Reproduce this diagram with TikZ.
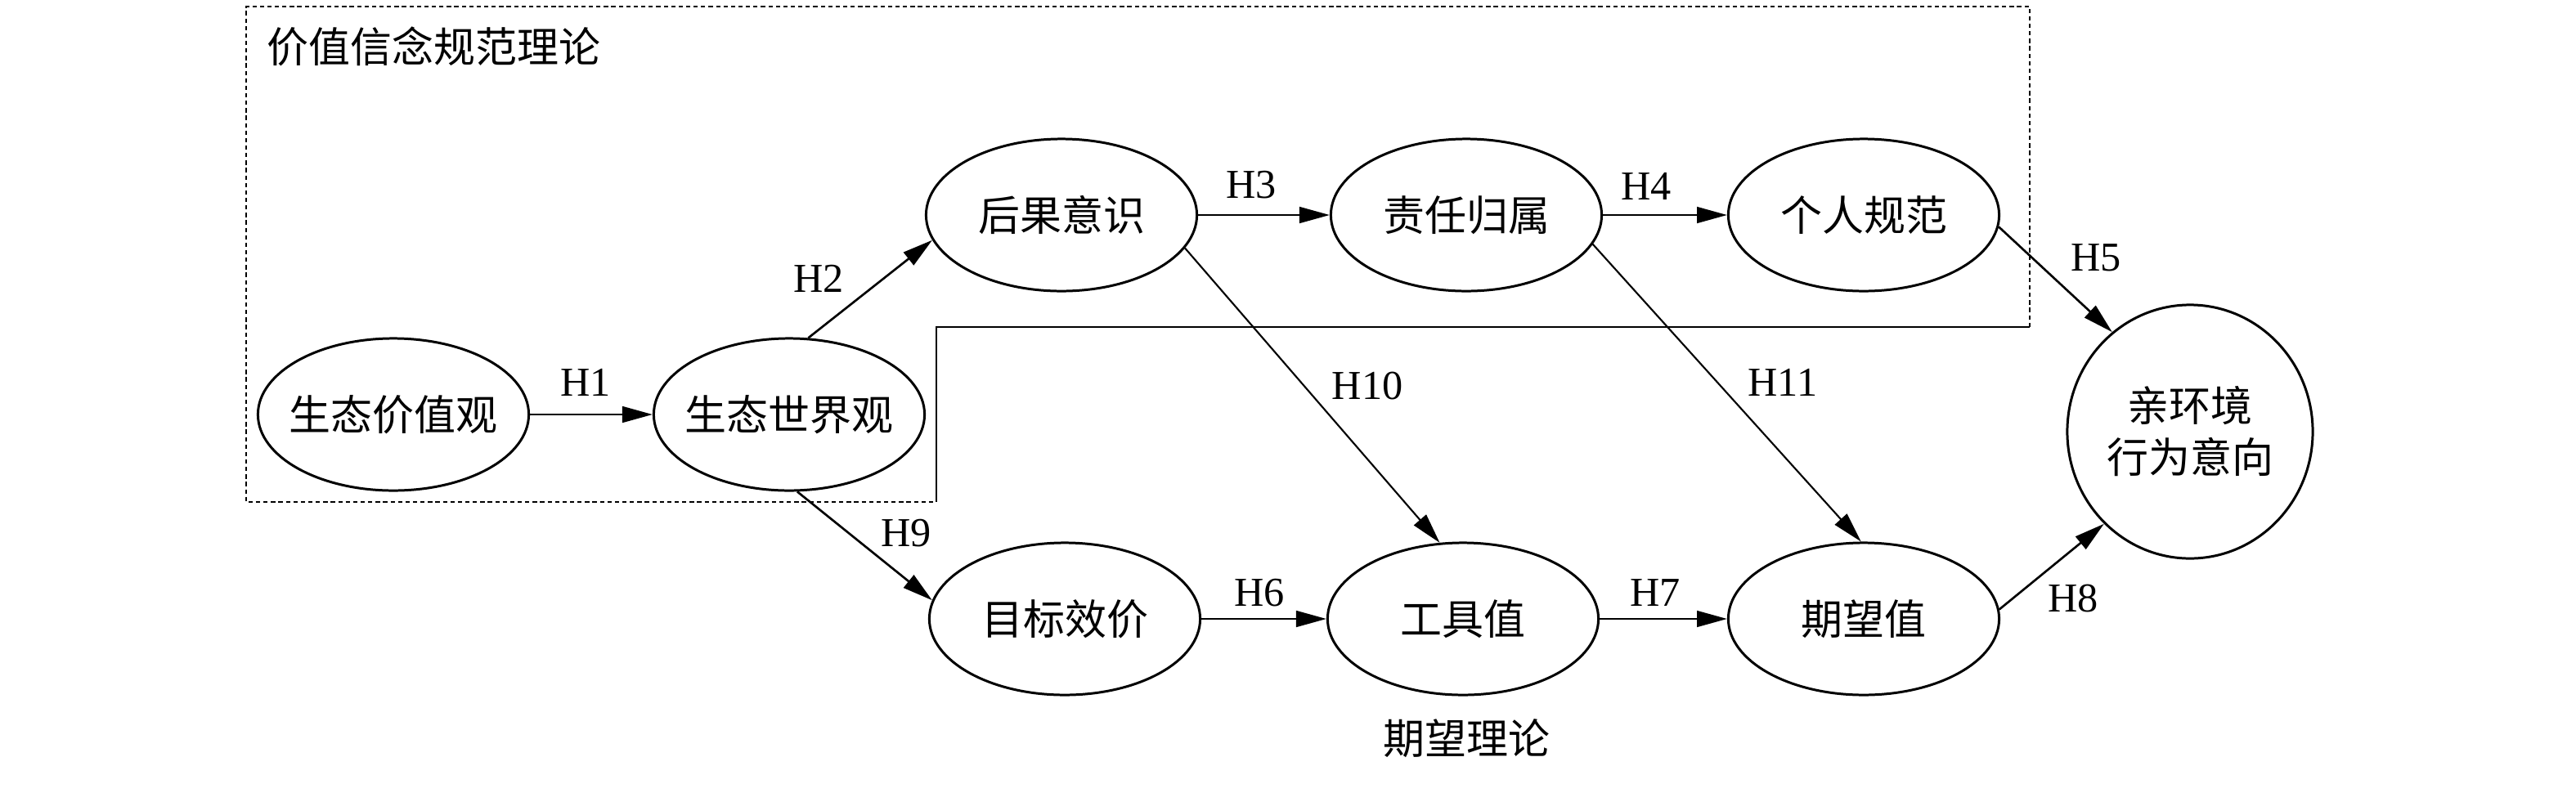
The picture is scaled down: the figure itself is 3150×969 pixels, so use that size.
\documentclass[tikz,border=0pt]{standalone}
\usepackage{fontspec}
\setmainfont{Liberation Serif}
\newfontfamily\cjk{Noto Sans CJK SC}
\usetikzlibrary{shapes.geometric,arrows.meta}
\begin{document}
\begin{tikzpicture}[x=0.01cm,y=-0.01cm,
  ell/.style={draw,ellipse,line width=0.85pt,minimum width=3.31cm,minimum height=1.86cm,inner sep=0pt},
  cjktxt/.style={font=\cjk\fontsize{14.5pt}{17.9pt}\selectfont,inner sep=0pt},
  hl/.style={font=\fontsize{14.3pt}{16pt}\selectfont,inner sep=0pt},
  arr/.style={line width=0.75pt,-{Triangle[length=10.5pt,width=5.6pt]}},
  thinarr/.style={arr,line width=0.6pt},
  boxdash/.style={line width=0.7pt,dash pattern=on 1.5pt off 1.1pt},
  boxsolid/.style={line width=0.7pt},
]
\useasboundingbox (0,0) rectangle (3150,969);

% nodes
\node[ell,label={[cjktxt]center:生态价值观}] (A) at (481,507) {};
\node[ell,label={[cjktxt]center:生态世界观}] (B) at (965,507) {};
\node[ell,label={[cjktxt]center:后果意识}] (C) at (1298,263) {};
\node[ell,label={[cjktxt]center:责任归属}] (D) at (1793,263) {};
\node[ell,label={[cjktxt]center:个人规范}] (E) at (2279,263) {};
\node[ell,label={[cjktxt]center:目标效价}] (F) at (1302,757) {};
\node[ell,label={[cjktxt]center:工具值}] (G) at (1789,757) {};
\node[ell,label={[cjktxt]center:期望值}] (Hn) at (2279,757) {};
\node[ell,minimum width=3.0cm,minimum height=3.1cm,
      label={[cjktxt,align=center]center:亲环境\\行为意向}] (I) at (2678,528) {};

% theory frame
\coordinate (f1) at (2482,400);
\coordinate (f2) at (2482,8);
\coordinate (f3) at (301,8);
\coordinate (f4) at (301,614);
\coordinate (f5) at (1145,614);
\coordinate (f6) at (1145,400);
\draw[boxdash] (f1) -- (f2) -- (f3) -- (f4) -- (f5);
\draw[boxsolid] (f5) -- (f6) -- (f1);
\node[cjktxt,anchor=west] (t1) at (326,57) {价值信念规范理论};
\node[cjktxt] (t2) at (1793,903) {期望理论};

% connectors
\draw[arr] (A.east) -- (B.west);
\draw[arr] (B.76) -- (C.191);
\draw[arr] (C.east) -- (D.west);
\draw[arr] (D.east) -- (E.west);
\draw[arr] (E.-5) -- (I.128);
\draw[arr] (B.-84) -- (F.172);
\draw[arr] (F.east) -- (G.west);
\draw[arr] (G.east) -- (Hn.west);
\draw[arr] (Hn.4) -- (I.227);
\draw[thinarr] (C.-15.5) -- (G.107);
\draw[thinarr] (D.-13) -- (Hn.92);

% labels
\node[hl] (h1) at (716,468) {H1};
\node[hl] (h2) at (1001,341) {H2};
\node[hl] (h3) at (1530,226) {H3};
\node[hl] (h4) at (2013,228) {H4};
\node[hl] (h5) at (2563,315) {H5};
\node[hl] (h6) at (1540,725) {H6};
\node[hl] (h7) at (2024,725) {H7};
\node[hl] (h8) at (2535,732) {H8};
\node[hl] (h9) at (1108,652) {H9};
\node[hl] (h10) at (1672,472) {H10};
\node[hl] (h11) at (2180,468) {H11};
\end{tikzpicture}
\end{document}
